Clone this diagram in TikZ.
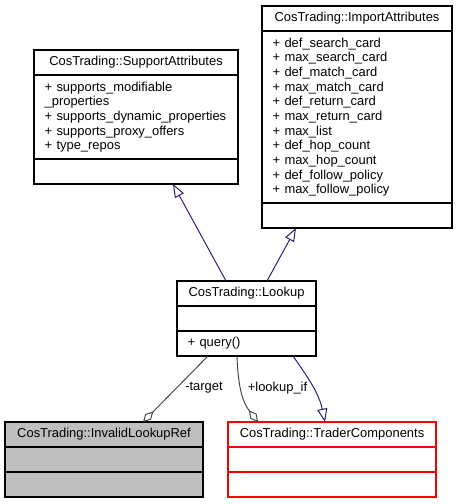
\documentclass[tikz,border=0pt]{standalone}
\usepackage{fontspec}
\setmainfont{Liberation Sans}
\usetikzlibrary{arrows.meta, positioning, calc}

\definecolor{edgeblue}{HTML}{191970}
\definecolor{edgegray}{HTML}{404040}
\definecolor{boxgray}{HTML}{BFBFBF}

\begin{document}
\begin{tikzpicture}[x=0.75pt, y=-0.75pt,
    box/.style={draw=black, line width=0.9pt, inner xsep=8pt, inner ysep=0pt,
      outer sep=0pt, font=\fontsize{9.7}{11}\selectfont},
    title/.style={box, minimum width=#1, minimum height=18.75pt},
    attrs/.style={box, text width=#1, align=left},
    lbl/.style={inner sep=0pt, font=\fontsize{9.7}{11}\selectfont},
    inherit/.style={draw=edgeblue, line width=0.7pt,
      -{Triangle[length=10pt, width=7.5pt, fill=white]}},
    member/.style={draw=edgegray, line width=0.7pt,
      -{Diamond[length=11pt, width=6pt, fill=white]}}]

  \useasboundingbox (0,0) rectangle (459,504);

  % CosTrading::SupportAttributes
  \node[title=153pt, anchor=north west] (saT) at (34,50) {CosTrading::SupportAttributes};
  \node[attrs=137pt, minimum height=63pt, below=0pt of saT] (saA)
    {+ supports\_modifiable\\\_properties\\+ supports\_dynamic\_properties\\+ supports\_proxy\_offers\\+ type\_repos};
  \node[title=153pt, below=0pt of saA] (saM) {};

  % CosTrading::ImportAttributes
  \node[title=142.5pt, anchor=north west] (iaT) at (262,6) {CosTrading::ImportAttributes};
  \node[attrs=126.5pt, minimum height=129pt, below=0pt of iaT] (iaA)
    {+ def\_search\_card\\+ max\_search\_card\\+ def\_match\_card\\+ max\_match\_card\\+ def\_return\_card\\+ max\_return\_card\\+ max\_list\\+ def\_hop\_count\\+ max\_hop\_count\\+ def\_follow\_policy\\+ max\_follow\_policy};
  \node[title=142.5pt, below=0pt of iaA] (iaM) {};

  % CosTrading::Lookup
  \node[title=104.25pt, anchor=north west] (lkT) at (177,281) {CosTrading::Lookup};
  \node[title=104.25pt, below=0pt of lkT] (lkA) {};
  \node[attrs=88.25pt, minimum height=18.75pt, below=0pt of lkA] (lkM) {+ query()};

  % CosTrading::InvalidLookupRef
  \node[title=148.5pt, fill=boxgray, anchor=north west] (ilT) at (5,422) {CosTrading::InvalidLookupRef};
  \node[title=148.5pt, fill=boxgray, below=0pt of ilT] (ilA) {};
  \node[title=148.5pt, fill=boxgray, below=0pt of ilA] (ilM) {};

  % CosTrading::TraderComponents
  \node[title=156pt, draw=red, anchor=north west] (tcT) at (228,422) {CosTrading::TraderComponents};
  \node[title=156pt, draw=red, below=0pt of tcT] (tcA) {};
  \node[title=156pt, draw=red, below=0pt of tcA] (tcM) {};

  % connectors
  \draw[inherit] ($(lkT.north)+(-20.5,0)$) -- ($(saM.south)+(37,0)$);
  \draw[inherit] ($(lkT.north)+(20.5,0)$) -- ($(iaM.south)+(-61,0)$);
  \draw[member] ($(lkM.south)+(-38.5,0)$) -- node[lbl, pos=0.48, right=6pt] {-target} ($(ilT.north)+(39,0)$);
  \draw[member] ($(lkM.south)+(-9.5,0)$) to[out=-88, in=128]
    node[lbl, pos=0.45, right=5pt] {+lookup\_if} ($(tcT.north)+(-74,0)$);
  \draw[inherit] ($(lkM.south)+(46.5,0)$) to[out=-55, in=102] ($(tcT.north)+(-7,0)$);

\end{tikzpicture}
\end{document}
